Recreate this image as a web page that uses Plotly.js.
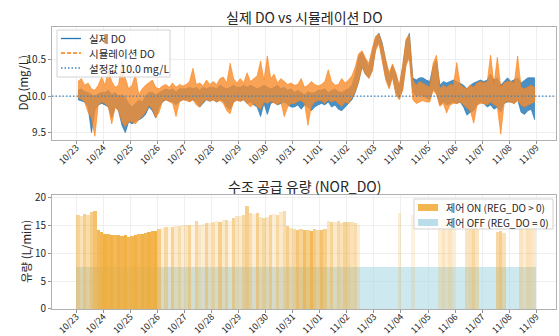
<!DOCTYPE html>
<html><head><meta charset="utf-8">
<script src="https://cdn.plot.ly/plotly-3.0.1.min.js"></script>
<style>html,body{margin:0;padding:0;background:#fff;} #chart{width:559px;height:336px;}</style>
</head><body><div id="chart"></div>
<script>
// ---- data ----
const startTime = Date.UTC(2024, 9, 23, 0, 0);
const windowHours = 3;          // DO envelope window and flow slot length
const setpoint = 10.0;

// DO (mg/L): low / high of each 3-hour window, 8 windows per day, 10/23 .. 11/08
const actualLow = [
 9.95, 9.93, 9.92, 9.85, 9.50, 9.80, 9.88, 9.90,
 9.88, 9.85, 9.70, 9.85, 9.80, 9.60, 9.50, 9.65,
 9.62, 9.65, 9.68, 9.70, 9.75, 9.85, 9.80, 9.70,
 9.85, 9.92, 9.95, 9.93, 9.92, 9.88, 9.93, 9.95,
 9.95, 9.93, 9.95, 9.92, 9.85, 9.90, 9.95, 9.93,
 9.95, 9.92, 9.95, 9.93, 9.85, 9.82, 9.92, 9.95,
 9.93, 9.95, 9.90, 9.92, 9.88, 9.85, 9.72, 9.90,
 9.75, 9.90, 9.92, 9.88, 9.90, 9.92, 9.88, 9.85,
 9.85, 9.88, 9.82, 9.88, 9.85, 9.80, 9.85, 9.88,
 9.90, 9.88, 9.92, 9.85, 9.88, 9.82, 9.80, 9.85,
 9.90, 9.95, 10.05, 10.20, 10.40, 10.30, 10.25, 10.35,
 10.65, 10.75, 10.50, 10.25, 10.12, 10.28, 10.05, 9.97,
 10.10, 10.45, 10.55, 10.05, 10.00, 10.02, 10.00, 9.98,
 9.95, 10.10, 10.05, 9.88, 9.92, 9.88, 9.90, 9.92,
 9.90, 9.92, 9.85, 9.74, 9.78, 9.80, 9.88, 9.92,
 9.90, 9.85, 9.88, 9.82, 9.85, 9.78, 9.90, 9.92,
 9.92, 9.90, 9.95, 9.78, 9.75, 9.80, 9.82, 9.68
];
const actualHigh = [
 10.08, 10.10, 10.06, 10.05, 10.02, 10.00, 10.03, 10.05,
 10.05, 10.08, 10.02, 10.05, 10.00, 10.02, 9.98, 9.90,
 9.85, 9.90, 9.95, 9.92, 10.00, 10.05, 10.05, 10.02,
 10.05, 10.08, 10.10, 10.08, 10.10, 10.06, 10.10, 10.10,
 10.10, 10.12, 10.10, 10.12, 10.08, 10.12, 10.10, 10.12,
 10.12, 10.10, 10.15, 10.12, 10.10, 10.12, 10.15, 10.12,
 10.12, 10.15, 10.12, 10.15, 10.12, 10.10, 10.12, 10.15,
 10.12, 10.10, 10.12, 10.15, 10.10, 10.12, 10.08, 10.10,
 10.05, 10.08, 10.05, 10.02, 10.06, 10.04, 10.05, 10.08,
 10.08, 10.10, 10.05, 10.08, 10.10, 10.06, 10.05, 10.08,
 10.10, 10.15, 10.30, 10.55, 10.60, 10.50, 10.40, 10.60,
 10.80, 10.86, 10.72, 10.48, 10.28, 10.42, 10.30, 10.12,
 10.40, 10.75, 10.86, 10.25, 10.22, 10.25, 10.25, 10.22,
 10.20, 10.40, 10.50, 10.15, 10.20, 10.18, 10.20, 10.22,
 10.20, 10.18, 10.15, 10.10, 10.15, 10.18, 10.20, 10.22,
 10.20, 10.22, 10.30, 10.22, 10.25, 10.15, 10.20, 10.25,
 10.20, 10.22, 10.25, 10.18, 10.22, 10.25, 10.25, 10.25
];
const simLow = [
 9.98, 9.96, 9.92, 9.78, 9.70, 9.45, 9.88, 9.92,
 9.90, 9.85, 9.62, 9.85, 9.80, 9.65, 9.58, 9.65,
 9.65, 9.62, 9.68, 9.72, 9.78, 9.88, 9.82, 9.70,
 9.78, 9.93, 9.95, 9.93, 9.90, 9.72, 9.92, 9.95,
 9.94, 9.92, 9.95, 9.88, 9.85, 9.92, 9.95, 9.93,
 9.95, 9.92, 9.94, 9.90, 9.80, 9.76, 9.92, 9.94,
 9.93, 9.95, 9.90, 9.85, 9.90, 9.86, 9.82, 9.92,
 9.90, 9.93, 9.90, 9.88, 9.92, 9.72, 9.85, 9.90,
 9.90, 9.93, 9.94, 9.90, 9.60, 9.86, 9.92, 9.94,
 9.94, 9.90, 9.95, 9.92, 9.94, 9.90, 9.86, 9.92,
 9.90, 9.97, 10.06, 10.20, 10.40, 10.30, 10.24, 10.34,
 10.62, 10.72, 10.48, 10.22, 10.10, 10.25, 10.02, 9.95,
 10.08, 10.42, 10.52, 9.95, 9.90, 9.92, 9.94, 9.92,
 9.92, 10.08, 10.02, 9.86, 9.90, 9.77, 9.88, 9.90,
 9.90, 9.92, 9.88, 9.84, 9.80, 9.63, 9.88, 9.90,
 9.90, 9.88, 9.92, 9.88, 9.85, 9.48, 9.90, 9.93,
 9.92, 9.90, 9.94, 9.88, 9.85, 9.88, 9.90, 9.92
];
const simHigh = [
 10.20, 10.24, 10.15, 10.18, 10.10, 10.08, 10.15, 10.26,
 10.15, 10.35, 10.20, 10.12, 10.15, 10.48, 10.25, 10.10,
 10.15, 10.30, 10.02, 10.10, 10.15, 10.18, 10.22, 10.12,
 10.10, 10.14, 10.16, 10.12, 10.18, 10.12, 10.16, 10.14,
 10.16, 10.20, 10.38, 10.16, 10.18, 10.14, 10.22, 10.16,
 10.20, 10.16, 10.24, 10.26, 10.18, 10.45, 10.24, 10.18,
 10.24, 10.18, 10.32, 10.20, 10.24, 10.28, 10.48, 10.22,
 10.55, 10.24, 10.30, 10.18, 10.24, 10.20, 10.16, 10.18,
 10.15, 10.16, 10.24, 10.12, 10.15, 10.20, 10.16, 10.14,
 10.16, 10.20, 10.36, 10.20, 10.15, 10.16, 10.24, 10.18,
 10.22, 10.28, 10.40, 10.58, 10.62, 10.52, 10.45, 10.65,
 10.82, 10.85, 10.70, 10.50, 10.32, 10.44, 10.32, 10.15,
 10.42, 10.78, 10.84, 10.22, 10.15, 10.20, 10.18, 10.15,
 10.12, 10.45, 10.56, 10.10, 10.15, 10.12, 10.16, 10.15,
 10.46, 10.16, 10.12, 10.10, 10.15, 10.12, 10.18, 10.20,
 10.18, 10.20, 10.56, 10.16, 10.53, 10.12, 10.18, 10.20,
 10.20, 10.18, 10.55, 10.12, 10.10, 10.12, 10.15, 10.12
];

// flow (L/min) while control ON, per 3-hour slot (0 = no ON period)
const onFlow = [
 16.9, 16.7, 17.0, 16.8, 17.3, 17.6, 14.2, 13.8,
 13.5, 13.4, 13.3, 13.2, 13.3, 13.0, 13.2, 12.9,
 13.1, 13.3, 13.5, 13.4, 13.6, 13.7, 13.9, 14.0,
 14.4, 14.5, 14.6, 14.7, 14.6, 14.8, 14.9, 15.0,
 15.0, 15.1, 15.0, 15.8, 15.1, 15.2, 15.3, 15.4,
 15.6, 15.8, 15.5, 15.9, 16.0, 15.8, 16.2, 16.6,
 16.6, 16.9, 18.5, 17.2, 17.0, 17.1, 16.4, 16.3,
 16.5, 16.8, 17.0, 16.9, 17.3, 17.6, 14.8, 14.5,
 14.4, 14.2, 14.3, 14.1, 14.2, 14.0, 14.3, 14.2,
 14.2, 14.4, 15.8, 15.6, 15.5, 15.7, 15.4, 15.6,
 15.5, 15.6, 15.3, 15.0, 0, 0, 0, 0,
 0, 0, 0, 0, 0, 0, 0, 17.2,
 0, 0, 0, 16.8, 0, 0, 0, 0,
 0, 0, 0, 16.0, 16.0, 16.0, 16.0, 16.0,
 0, 0, 0, 16.0, 16.0, 15.8, 15.9, 0,
 0, 0, 0, 0, 13.8, 14.0, 13.6, 0,
 0, 0, 0, 16.0, 16.0, 16.0, 16.0, 16.0
];
// share of each slot with control ON
const onShare = [
 0.5, 0.35, 0.55, 0.4, 0.6, 0.7, 0.8, 0.85,
 0.9, 0.85, 0.9, 0.8, 0.9, 0.85, 0.9, 0.8,
 0.85, 0.9, 0.8, 0.9, 0.85, 0.9, 0.85, 0.9,
 0.6, 0.2, 0.45, 0.15, 0.5, 0.25, 0.4, 0.2,
 0.3, 0.5, 0.15, 0.45, 0.3, 0.2, 0.5, 0.25,
 0.4, 0.2, 0.55, 0.25, 0.45, 0.15, 0.5, 0.3,
 0.25, 0.45, 0.55, 0.4, 0.2, 0.55, 0.3, 0.45,
 0.3, 0.5, 0.2, 0.45, 0.25, 0.4, 0.55, 0.35,
 0.45, 0.65, 0.5, 0.75, 0.55, 0.8, 0.6, 0.45,
 0.7, 0.55, 0.3, 0.5, 0.25, 0.45, 0.35, 0.5,
 0.45, 0.35, 0.4, 0.2, 0, 0, 0, 0,
 0, 0, 0, 0, 0, 0, 0, 0.2,
 0, 0, 0, 0.15, 0, 0, 0, 0,
 0, 0, 0, 0.2, 0.3, 0.2, 0.3, 0.2,
 0, 0, 0, 0.3, 0.35, 0.45, 0.3, 0,
 0, 0, 0, 0, 0.45, 0.55, 0.35, 0,
 0, 0, 0, 0.3, 0.2, 0.35, 0.3, 0.25
];
// flow (L/min) while control OFF, per 3-hour slot
const offFlow = [
 7.5, 7.5, 7.5, 7.5, 7.5, 7.5, 7.5, 7.5,
 7.5, 7.5, 7.5, 7.5, 7.5, 7.5, 7.5, 7.5,
 7.5, 7.5, 7.5, 7.5, 7.5, 7.5, 7.5, 7.5,
 7.5, 7.5, 7.5, 7.5, 7.5, 7.5, 7.5, 7.5,
 7.5, 7.5, 7.5, 7.5, 7.5, 7.5, 7.5, 7.5,
 7.5, 7.5, 7.5, 7.5, 7.5, 7.5, 7.5, 7.5,
 7.5, 7.5, 7.5, 7.5, 7.5, 7.5, 7.5, 7.5,
 7.5, 7.5, 7.5, 7.5, 7.5, 7.5, 7.5, 7.5,
 7.5, 7.5, 7.5, 7.5, 7.5, 7.5, 7.5, 7.5,
 7.5, 7.5, 7.5, 7.5, 7.5, 7.5, 7.5, 7.5,
 7.5, 7.5, 7.5, 7.5, 7.5, 7.5, 7.5, 7.5,
 7.5, 7.5, 7.5, 7.5, 7.5, 7.5, 7.5, 7.5,
 7.5, 7.5, 7.5, 7.5, 7.5, 7.5, 7.5, 7.5,
 7.5, 7.5, 7.5, 7.5, 7.5, 7.5, 7.5, 7.5,
 7.5, 7.5, 7.5, 7.5, 7.5, 7.5, 7.5, 7.5,
 7.5, 7.5, 7.5, 7.5, 7.5, 7.5, 7.5, 7.5,
 7.5, 7.5, 7.5, 7.5, 7.5, 7.5, 7.5, 7.5
];
const xRange = ['2024-10-22 02:30', '2024-11-09 17:30'];
const legendTop = ['실제 DO', '시뮬레이션 DO', '설정값 10.0 mg/L'];
const legendBottom = ['제어 ON (REG_DO > 0)', '제어 OFF (REG_DO = 0)'];

// ---- build ----
const H = 3600000;
const W = windowHours * H;
const centers = actualLow.map((_, j) => startTime + (j + 0.5) * W);
function band(low, high) {
  return {x: centers.concat(centers.slice().reverse()),
          y: high.concat(low.slice().reverse())};
}
const act = band(actualLow, actualHigh);
const sim = band(simLow, simHigh);
const flowTimes = onFlow.map((_, j) => startTime + (j + 0.5) * W);

const FONT = '"Noto Sans CJK KR", "Noto Sans", sans-serif';
const TXT = '#262626';
const BLUE = '#1f77b4', ORANGE_L = '#ff7f0e';
const ORANGE = '#F0A830';
const LBLUE = '#ADD8E6';

const traces = [
  {x: act.x, y: act.y, type: 'scatter', mode: 'lines', fill: 'toself', showlegend: false,
   fillcolor: 'rgba(45,125,185,0.85)', line: {color: 'rgba(31,119,180,0.9)', width: 0.7},
   xaxis: 'x', yaxis: 'y', hoverinfo: 'skip'},
  {x: sim.x, y: sim.y, type: 'scatter', mode: 'lines', fill: 'toself', showlegend: false,
   fillcolor: 'rgba(248,140,45,0.8)', line: {color: 'rgba(255,127,14,0.85)', width: 0.7},
   xaxis: 'x', yaxis: 'y', hoverinfo: 'skip'},
  {x: xRange, y: [setpoint, setpoint], type: 'scatter', mode: 'lines', showlegend: false,
   line: {color: '#3d85c0', width: 1.2, dash: '1.5px,2px'}, xaxis: 'x', yaxis: 'y', hoverinfo: 'skip'},

  {x: flowTimes, y: offFlow, type: 'bar', width: W, showlegend: false,
   marker: {color: LBLUE, opacity: 0.6, line: {width: 0}}, xaxis: 'x2', yaxis: 'y2', hoverinfo: 'skip'},
  {x: flowTimes, y: onFlow, type: 'bar', width: W, showlegend: false,
   marker: {color: ORANGE, opacity: onShare, line: {width: 0}}, xaxis: 'x2', yaxis: 'y2', hoverinfo: 'skip'}
];

// pixel helpers for legend boxes (plot area: x 52..556, y 27..309)
const px = v => (v - 52) / 504;
const py = v => (309 - v) / 282;
const shapes = [], annotations = [];
function box(x0, y0, x1, y1) {
  shapes.push({type: 'rect', xref: 'paper', yref: 'paper', x0: px(x0), x1: px(x1), y0: py(y0), y1: py(y1),
    fillcolor: 'rgba(255,255,255,0.82)', line: {color: '#d3d3d3', width: 1}, layer: 'above'});
}
function label(text, x, y, size) {
  annotations.push({text, xref: 'paper', yref: 'paper', x: px(x), y: py(y), xanchor: 'left', yanchor: 'middle',
    showarrow: false, font: {family: FONT, size, color: TXT}});
}
box(57, 30, 170, 77);
const topRows = [38.5, 53, 68];
const topStyles = [{color: BLUE, width: 1.3}, {color: ORANGE_L, width: 1.3, dash: '4px,2px'}, {color: '#3d85c0', width: 1.3, dash: '1.5px,2px'}];
topRows.forEach((yy, k) => {
  shapes.push({type: 'line', xref: 'paper', yref: 'paper', x0: px(61), x1: px(81), y0: py(yy), y1: py(yy),
    line: topStyles[k], layer: 'above'});
  label(legendTop[k], 87, yy, 10.5);
});
box(414, 199, 553, 229);
const botRows = [207.5, 222.5];
const botColors = ['rgba(240,168,48,0.85)', 'rgba(173,216,230,0.85)'];
botRows.forEach((yy, k) => {
  shapes.push({type: 'rect', xref: 'paper', yref: 'paper', x0: px(418), x1: px(438), y0: py(yy - 3.5), y1: py(yy + 3.5),
    fillcolor: botColors[k], line: {width: 0}, layer: 'above'});
  label(legendBottom[k], 444, yy, 10);
});

annotations.push(
  {text: '실제 DO vs 시뮬레이션 DO', xref: 'paper', yref: 'paper', x: 0.5, y: 1.0355,
   xanchor: 'center', yanchor: 'middle', showarrow: false, font: {family: FONT, size: 14, color: TXT}},
  {text: '수조 공급 유량 (NOR_DO)', xref: 'paper', yref: 'paper', x: 0.5, y: 0.436,
   xanchor: 'center', yanchor: 'middle', showarrow: false, font: {family: FONT, size: 14, color: TXT}},
  {text: 'DO (mg/L)', xref: 'paper', yref: 'paper', x: px(22), y: py(83.5), textangle: -90,
   xanchor: 'center', yanchor: 'middle', showarrow: false, font: {family: FONT, size: 11.5, color: TXT}},
  {text: '유량 (L/min)', xref: 'paper', yref: 'paper', x: px(26), y: py(252), textangle: -90,
   xanchor: 'center', yanchor: 'middle', showarrow: false, font: {family: FONT, size: 11.5, color: TXT}}
);

const xBase = {
  type: 'date', range: xRange, tick0: '2024-10-23', dtick: 86400000, tickformat: '%m/%d',
  tickangle: -45, ticks: 'outside', ticklen: 3, tickcolor: '#777', tickwidth: 0.8,
  ticklabelstandoff: -5,
  showgrid: true, gridcolor: '#ebebeb', gridwidth: 0.8,
  showline: true, mirror: true, linecolor: '#b0b0b0', linewidth: 1,
  tickfont: {family: FONT, size: 9, color: TXT}, zeroline: false, fixedrange: true
};
const yBase = {
  ticks: 'outside', ticklen: 3, tickcolor: '#777', tickwidth: 0.8,
  showgrid: true, gridcolor: '#ebebeb', gridwidth: 0.8,
  showline: true, mirror: true, linecolor: '#b0b0b0', linewidth: 1,
  tickfont: {family: FONT, size: 10, color: TXT}, zeroline: false, fixedrange: true
};

const layout = {
  width: 559, height: 336,
  margin: {l: 52, r: 3, t: 27, b: 27, pad: 0},
  paper_bgcolor: '#fff', plot_bgcolor: '#fff',
  showlegend: false,
  barmode: 'overlay', bargap: 0,
  xaxis: Object.assign({}, xBase, {domain: [0, 1], anchor: 'y'}),
  yaxis: Object.assign({}, yBase, {domain: [0.5993, 1], anchor: 'x', range: [9.40, 10.945],
    tickvals: [9.5, 10.0, 10.5], ticktext: ['9.5', '10.0', '10.5']}),
  xaxis2: Object.assign({}, xBase, {domain: [0, 1], anchor: 'y2'}),
  yaxis2: Object.assign({}, yBase, {domain: [0, 0.4043], anchor: 'x2', range: [0, 20.4],
    tickvals: [0, 5, 10, 15, 20]}),
  shapes, annotations
};

Plotly.newPlot('chart', traces, layout, {staticPlot: true, displayModeBar: false});
</script>
</body></html>
